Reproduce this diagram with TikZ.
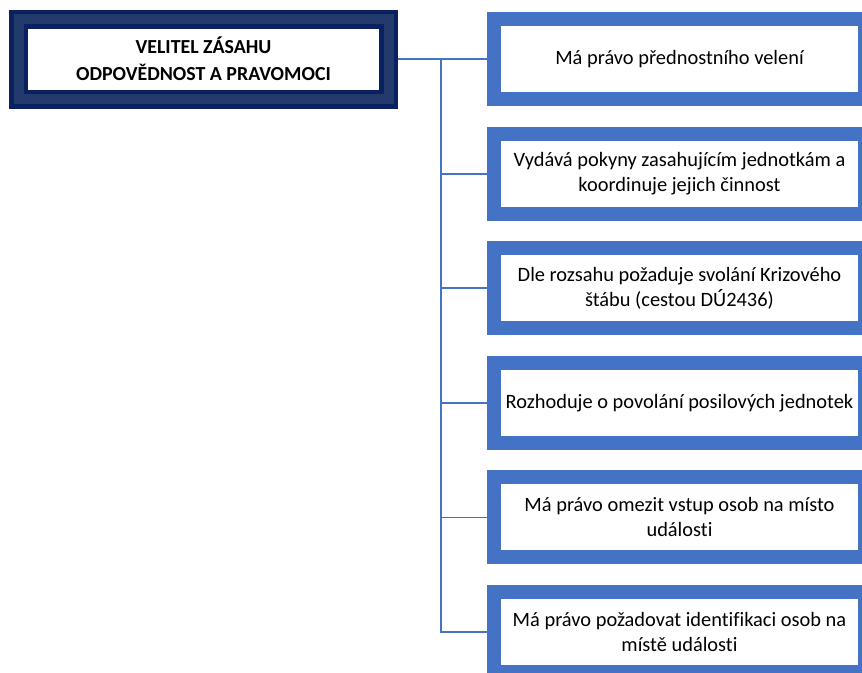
\documentclass[tikz,border=0pt]{standalone}
\usepackage{fontspec}
\setmainfont[Ligatures={NoCommon}]{Carlito}
\usepackage{xcolor}
\usepackage{tikz}
\usetikzlibrary{positioning}
\definecolor{navydark}{HTML}{0B2060}
\definecolor{navymid}{HTML}{223A6C}
\definecolor{duty}{HTML}{4472C4}
\tikzset{
  head/.style={rectangle, draw=navydark, line width=4.5pt, double=navymid, double distance=10pt, fill=white, outer sep=9.5pt, minimum width=370pt, minimum height=80pt, align=center, font=\fontsize{19.9}{27}\selectfont\bfseries},
  duty/.style={rectangle, draw=duty, line width=14pt, fill=white, minimum width=371pt, minimum height=80pt, inner sep=0pt, align=center, font=\fontsize{20.4}{25}\selectfont},
  link/.style={draw=duty, line width=1.8pt}
}

\begin{document}
\begin{tikzpicture}[node distance=20.6pt]
  \clip (0,0) rectangle (862pt,-672pt);
  \node[head] (head) at (203.5pt,-59pt) {VELITEL ZÁSAHU\\ODPOVĚDNOST A PRAVOMOCI};
  \node[duty] (d1) at (679.5pt,-59pt) {Má právo přednostního velení};
  \node[duty, below=of d1] (d2) {Vydává pokyny zasahujícím jednotkám a\\koordinuje jejich činnost};
  \node[duty, below=of d2] (d3) {Dle rozsahu požaduje svolání Krizového\\štábu (cestou DÚ2436)};
  \node[duty, below=of d3] (d4) {Rozhoduje o povolání posilových jednotek};
  \node[duty, below=of d4] (d5) {Má právo omezit vstup osob na místo\\události};
  \node[duty, below=of d5] (d6) {Má právo požadovat identifikaci osob na\\místě události};
  \coordinate (trunk) at (441pt,-59pt);
  \draw[link] (head.east) -- (d1.west);
  \foreach \k in {2,...,6}
    \draw[link] (trunk) |- (d\k.west);
\end{tikzpicture}
\end{document}
